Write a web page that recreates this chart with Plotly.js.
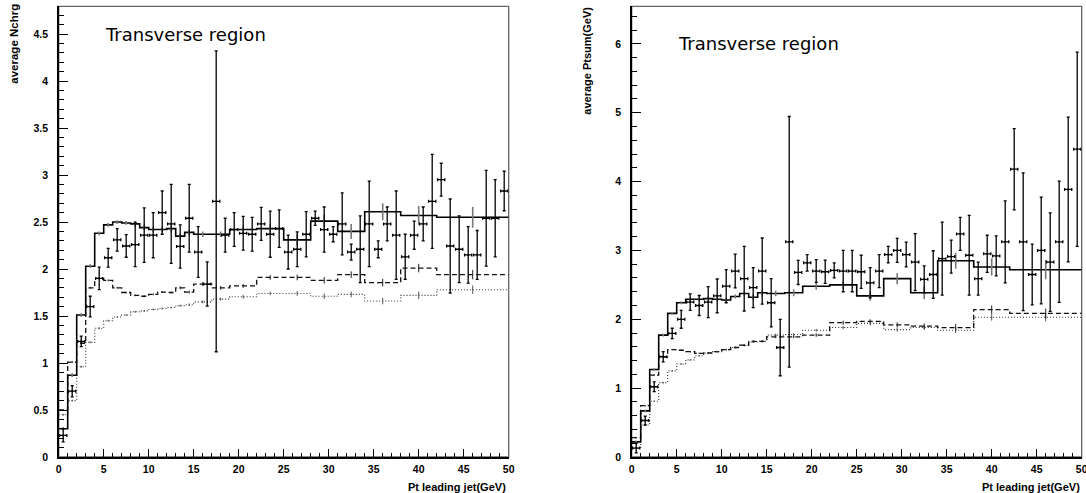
<!DOCTYPE html>
<html><head><meta charset="utf-8">
<script src="https://cdn.plot.ly/plotly-3.0.1.min.js"></script>
<style>html,body{margin:0;padding:0;background:#fff}#chart{width:1086px;height:493px}</style>
</head><body><div id="chart"></div>
<script>
// ---------- data ----------
const binEdges = [0,1,2,3,4,5,6,7,8,9,10,11,12,13,14,15,17,19,22,25,28,31,34,38,42,50];
const dataX = [0.5,1.5,2.5,3.5,4.5,5.5,6.5,7.5,8.5,9.5,10.5,11.5,12.5,13.5,14.5,15.5,16.5,17.5,18.5,19.5,
  20.5,21.5,22.5,23.5,24.5,25.5,26.5,27.5,28.5,29.5,30.5,31.5,32.5,33.5,34.5,35.5,36.5,37.5,38.5,39.5,
  40.5,41.5,42.5,43.5,44.5,45.5,46.5,47.5,48.5,49.5];

// left: average Nchrg
const nchData = [0.23,0.70,1.23,1.60,1.90,2.12,2.31,2.245,2.26,2.36,2.36,2.60,2.48,2.24,2.54,2.18,1.84,2.72,2.36,2.42,
  2.38,2.37,2.48,2.37,2.43,2.18,2.21,2.37,2.54,2.42,2.37,2.48,2.18,2.21,2.48,2.21,2.48,2.36,2.13,2.36,
  2.48,2.72,2.95,2.245,2.21,2.15,2.15,2.54,2.54,2.83];
const nchErr = [0.07,0.06,0.055,0.11,0.12,0.10,0.12,0.12,0.235,0.29,0.24,0.23,0.42,0.23,0.36,0.27,0.235,1.6,0.18,0.18,
  0.18,0.18,0.175,0.245,0.2,0.18,0.185,0.24,0.075,0.24,0.08,0.33,0.085,0.355,0.455,0.09,0.18,0.47,0.24,0.15,
  0.18,0.5,0.175,0.5,0.355,0.3,0.26,0.51,0.41,0.21];
const nchSolid  = [0.30,0.87,1.51,2.03,2.38,2.47,2.50,2.49,2.48,2.44,2.42,2.42,2.43,2.35,2.39,2.37,2.37,2.42,2.43,2.31,2.51,2.40,2.61,2.57,2.55];
const nchDashed = [0.50,1.01,1.21,1.80,1.90,1.88,1.80,1.75,1.72,1.71,1.73,1.755,1.75,1.80,1.755,1.84,1.80,1.82,1.91,1.91,1.88,1.94,1.855,2.01,1.94];
const nchDotted = [0.45,0.60,0.96,1.22,1.37,1.45,1.49,1.51,1.545,1.555,1.57,1.58,1.59,1.61,1.62,1.65,1.68,1.705,1.74,1.74,1.71,1.73,1.66,1.72,1.78];
const nchSolidErr  = [0.02,0.02,0.02,0.02,0.02,0.02,0.02,0.02,0.03,0.03,0.03,0.03,0.03,0.03,0.03,0.03,0.03,0.04,0.05,0.06,0.07,0.08,0.09,0.1,0.11];
const nchDashedErr = [0.01,0.01,0.01,0.01,0.01,0.01,0.01,0.01,0.01,0.01,0.01,0.01,0.01,0.015,0.015,0.02,0.02,0.02,0.025,0.03,0.035,0.035,0.04,0.045,0.05];
const nchDottedErr = [0.01,0.01,0.01,0.01,0.01,0.01,0.01,0.01,0.01,0.01,0.01,0.01,0.01,0.01,0.015,0.015,0.015,0.02,0.02,0.025,0.03,0.03,0.035,0.04,0.045];

// right: average Ptsum(GeV)
const ptData = [0.13,0.53,1.02,1.456,1.795,2.0,2.25,2.20,2.25,2.34,2.48,2.70,2.59,2.46,2.70,2.24,1.59,3.125,2.68,2.82,
  2.70,2.69,2.71,2.70,2.70,2.69,2.53,2.70,2.94,3.0,2.94,2.83,2.58,2.65,2.88,2.91,3.24,2.93,2.59,2.95,
  2.92,3.125,4.18,3.125,2.65,3.0,2.83,3.125,3.885,4.47];
const ptErr = [0.07,0.065,0.07,0.075,0.075,0.13,0.12,0.145,0.225,0.245,0.24,0.245,0.47,0.29,0.48,0.35,0.41,1.82,0.175,0.12,
  0.165,0.17,0.11,0.30,0.30,0.24,0.22,0.24,0.12,0.175,0.18,0.415,0.195,0.345,0.53,0.24,0.24,0.58,0.24,0.27,
  0.29,0.595,0.59,1.0,0.44,0.775,0.715,0.88,1.05,1.41];
const ptSolid  = [0.22,0.67,1.27,1.77,2.085,2.24,2.29,2.29,2.30,2.29,2.28,2.33,2.375,2.32,2.385,2.375,2.385,2.48,2.50,2.34,2.59,2.385,2.85,2.76,2.72];
const ptDashed = [0.28,0.745,1.19,1.456,1.56,1.55,1.53,1.505,1.51,1.53,1.56,1.59,1.625,1.68,1.68,1.745,1.745,1.77,1.95,1.97,1.92,1.90,1.88,2.14,2.085];
const ptDotted = [0.13,0.465,0.81,1.08,1.25,1.35,1.41,1.47,1.51,1.53,1.56,1.59,1.62,1.67,1.68,1.77,1.78,1.84,1.88,1.94,1.85,1.88,1.84,2.03,2.03];
const ptSolidErr  = [0.02,0.02,0.02,0.02,0.02,0.02,0.03,0.03,0.03,0.03,0.03,0.03,0.03,0.04,0.04,0.04,0.05,0.05,0.06,0.07,0.08,0.09,0.115,0.125,0.14];
const ptDashedErr = [0.01,0.01,0.01,0.01,0.01,0.01,0.01,0.01,0.01,0.01,0.01,0.015,0.015,0.015,0.015,0.02,0.02,0.025,0.03,0.03,0.035,0.04,0.05,0.06,0.07];
const ptDottedErr = [0.01,0.01,0.01,0.01,0.01,0.01,0.01,0.01,0.01,0.01,0.01,0.01,0.015,0.015,0.015,0.02,0.02,0.02,0.025,0.03,0.03,0.035,0.04,0.05,0.06];

const panelText = "Transverse region";
const xTitle = "Pt leading jet(GeV)";
const yTitleLeft = "average Nchrg";
const yTitleRight = "average Ptsum(GeV)";

// ---------- helpers ----------
const binCenters = binEdges.slice(0,-1).map((e,i)=>(e+binEdges[i+1])/2);
function stepTrace(vals, xa, ya, line){
  return {x: binEdges, y: vals.concat([vals[vals.length-1]]), xaxis: xa, yaxis: ya,
    mode:'lines', line: Object.assign({shape:'hv'}, line), hoverinfo:'skip', showlegend:false, type:'scatter'};
}
function histErrTrace(vals, errs, xa, ya, color, th){
  return {x: binCenters, y: vals, xaxis: xa, yaxis: ya, mode:'markers', type:'scatter',
    marker:{size:1, color: color}, showlegend:false, hoverinfo:'skip',
    error_y:{type:'data', array: errs, visible:true, color: color, thickness: th, width: 0}};
}
function dataTrace(y, e, xa, ya){
  return {x: dataX, y: y, xaxis: xa, yaxis: ya, mode:'markers', type:'scatter',
    marker:{size:2, color:'black'}, showlegend:false,
    error_y:{type:'data', array: e, visible:true, color:'black', thickness:1.3, width:1.5},
    error_x:{type:'constant', value:0.4, visible:true, color:'black', thickness:1.3, width:1.5}};
}
const solidLine = {color:'black', width:1.6};
const dashedLine = {color:'#111', width:1.3, dash:'5px,3px'};
const dottedLine = {color:'#333', width:1.1, dash:'1px,2px'};

const traces = [
  stepTrace(nchDotted,'x','y',dottedLine),
  stepTrace(nchDashed,'x','y',dashedLine),
  stepTrace(nchSolid,'x','y',solidLine),
  histErrTrace(nchDotted,nchDottedErr,'x','y','#555',1),
  histErrTrace(nchDashed,nchDashedErr,'x','y','#222',1),
  histErrTrace(nchSolid,nchSolidErr,'x','y','#777',1.6),
  dataTrace(nchData,nchErr,'x','y'),
  stepTrace(ptDotted,'x2','y2',dottedLine),
  stepTrace(ptDashed,'x2','y2',dashedLine),
  stepTrace(ptSolid,'x2','y2',solidLine),
  histErrTrace(ptDotted,ptDottedErr,'x2','y2','#555',1),
  histErrTrace(ptDashed,ptDashedErr,'x2','y2','#222',1),
  histErrTrace(ptSolid,ptSolidErr,'x2','y2','#777',1.6),
  dataTrace(ptData,ptErr,'x2','y2')
];

const W = 1086, H = 493;
const tickFont = {family:'Liberation Sans, Arial, sans-serif', size:10.5, color:'black', weight:700};
function xAxis(d0,d1,anchor){
  return {domain:[d0/W,d1/W], anchor:anchor, range:[0,50], dtick:5, tick0:0, ticks:'inside', ticklen:8, tickwidth:1,
    tickcolor:'black', minor:{dtick:1, ticks:'inside', ticklen:4, tickwidth:1, tickcolor:'black'},
    showline:true, linecolor:'black', linewidth:1.5, showgrid:false, zeroline:false, tickfont:tickFont,
    ticklabeloverflow:'allow', ticklabelstandoff:2, fixedrange:true};
}
function yAxis(top, ymax, dt, mdt, anchor){
  return {domain:[(H-457)/H,(H-top)/H], anchor:anchor, range:[0,ymax], dtick:dt, tick0:0, ticks:'inside', ticklen:9, tickwidth:1,
    tickcolor:'black', minor:{dtick:mdt, ticks:'inside', ticklen:5, tickwidth:1, tickcolor:'black'},
    showline:true, linecolor:'black', linewidth:1.5, showgrid:false, zeroline:false, tickfont:tickFont,
    ticklabelstandoff:7, fixedrange:true};
}
const titleFont = {family:'Liberation Sans, Arial, sans-serif', size:11, color:'black', weight:700};
const regionFont = {family:'DejaVu Sans ExtraLight, DejaVu Sans, sans-serif', size:18, color:'black'};
const layout = {
  width:W, height:H, margin:{l:0,r:0,t:0,b:0}, paper_bgcolor:'white', plot_bgcolor:'white', showlegend:false,
  xaxis: xAxis(58.7,508.7,'y'),
  yaxis: yAxis(6.3,4.795,0.5,0.1,'x'),
  xaxis2: xAxis(631.7,1081.7,'y2'),
  yaxis2: yAxis(6.3,6.545,1,0.2,'x2'),
  shapes:[
    {type:'rect', xref:'x domain', yref:'y domain', x0:0, x1:1, y0:0, y1:1, line:{color:'#666', width:1.3}, layer:'below'},
    {type:'rect', xref:'x2 domain', yref:'y2 domain', x0:0, x1:1, y0:0, y1:1, line:{color:'#666', width:1.3}, layer:'below'}
  ],
  annotations:[
    {text:panelText, xref:'x', yref:'y', x:4.9, y:4.5, xanchor:'left', yanchor:'middle', showarrow:false, font:regionFont},
    {text:panelText, xref:'x2', yref:'y2', x:4.9, y:6.0, xanchor:'left', yanchor:'middle', showarrow:false, font:regionFont},
    {text:xTitle, xref:'paper', yref:'paper', x:508/W, y:1-486.5/H, xanchor:'right', yanchor:'middle', showarrow:false, font:titleFont},
    {text:xTitle, xref:'paper', yref:'paper', x:1081.7/W, y:1-486.5/H, xanchor:'right', yanchor:'middle', showarrow:false, font:titleFont},
    {text:yTitleLeft, xref:'paper', yref:'paper', x:13.7/W, y:1-2/H, xanchor:'center', yanchor:'top', textangle:-90, showarrow:false, font:Object.assign({}, titleFont, {size:11.5})},
    {text:yTitleRight, xref:'paper', yref:'paper', x:586.7/W, y:1-5/H, xanchor:'center', yanchor:'top', textangle:-90, showarrow:false, font:titleFont}
  ]
};
Plotly.newPlot('chart', traces, layout, {displayModeBar:false, staticPlot:true});
</script>
</body></html>
